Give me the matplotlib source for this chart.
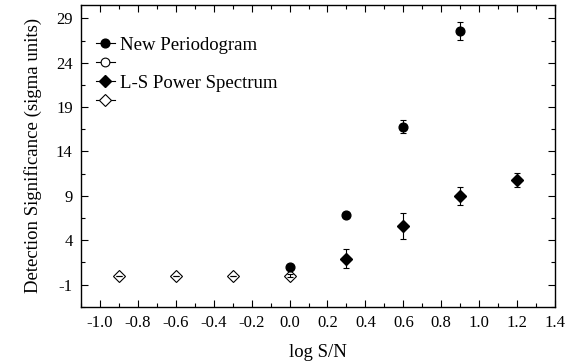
import matplotlib.pyplot as plt
from matplotlib.lines import Line2D
from matplotlib.ticker import MultipleLocator

plt.rcParams.update({
    'font.family': 'serif',
    'font.serif': ['Liberation Serif', 'DejaVu Serif'],
    'font.size': 12,
    'axes.unicode_minus': False,
    'xtick.direction': 'in',
    'ytick.direction': 'in',
    'xtick.top': True,
    'ytick.right': True,
})

# New Periodogram (filled circles)
np_x = [0.0, 0.3, 0.6, 0.9]
np_y = [1.0, 6.8, 16.8, 27.6]
np_err = [0.0, 0.35, 0.7, 1.0]

# L-S Power Spectrum (filled diamonds)
ls_x = [0.3, 0.6, 0.9, 1.2]
ls_y = [1.9, 5.6, 8.95, 10.8]
ls_err = [1.05, 1.5, 1.0, 0.8]

# non-detections (open diamonds)
ls_open_x = [-0.9, -0.6, -0.3, 0.0]
ls_open_y = [0.0, 0.0, 0.0, 0.0]
ls_open_err = [0.0, 0.0, 0.0, 0.15]

# open circles: none plotted
np_open_x = []
np_open_y = []

legend_labels = ['New Periodogram', '', 'L-S Power Spectrum', '']

xticks = [-1.0, -0.8, -0.6, -0.4, -0.2, 0.0, 0.2, 0.4, 0.6, 0.8, 1.0, 1.2, 1.4]
yticks = [-1, 4, 9, 14, 19, 24, 29]

fig = plt.figure(figsize=(5.73, 3.62), dpi=100)
ax = fig.add_axes([0.1414, 0.1528, 0.8272, 0.8332])

ekw = dict(ecolor='black', elinewidth=0.8, capsize=2.5, capthick=0.8, linestyle='none')
ax.errorbar(np_x, np_y, yerr=np_err, fmt='o', color='black', ms=6.3, **ekw)
ax.errorbar(ls_x, ls_y, yerr=ls_err, fmt='D', color='black', ms=6, **ekw)
ax.plot(ls_open_x, ls_open_y, 'D', mfc='white', mec='black', mew=0.8, ms=6,
        linestyle='none', zorder=2)
ax.errorbar(ls_open_x, ls_open_y, yerr=ls_open_err, fmt='none', zorder=3,
            ecolor='black', elinewidth=0.8, capsize=2, capthick=0.8)
ax.plot(np_open_x, np_open_y, 'o', mfc='white', mec='black')

handles = [
    Line2D([], [], color='black', lw=0.8, marker='o', ms=6.3),
    Line2D([], [], color='black', lw=0.8, marker='o', ms=6.3, mfc='white', mew=0.8),
    Line2D([], [], color='black', lw=0.8, marker='D', ms=6),
    Line2D([], [], color='black', lw=0.8, marker='D', ms=6, mfc='white', mew=0.8),
]
ax.legend(handles, legend_labels, loc='upper left', bbox_to_anchor=(0.0, 0.945),
          frameon=False, fontsize=13.5, handlelength=1.0, handletextpad=0.3,
          labelspacing=0.1, borderaxespad=0.4)

ax.set_xlim(-1.1, 1.4)
ax.set_ylim(-2.35, 30.5)
ax.set_xticks(xticks)
ax.set_xticklabels([f'{t:.1f}' for t in xticks])
ax.set_yticks(yticks)
ax.xaxis.set_minor_locator(MultipleLocator(0.1))
ax.set_yticks([y + 2.5 for y in yticks[:-1]] + [-3.5], minor=True)
ax.tick_params(which='major', length=5, width=0.8)
ax.tick_params(which='minor', length=3, width=0.8)
ax.tick_params(axis='both', labelsize=12, pad=6)

ax.set_xlabel('log S/N', fontsize=13.5, labelpad=9)
ax.set_ylabel('Detection Significance (sigma units)', fontsize=13.5, labelpad=10)
for s in ax.spines.values():
    s.set_linewidth(1.0)

fig.savefig('out.png', dpi=100)
